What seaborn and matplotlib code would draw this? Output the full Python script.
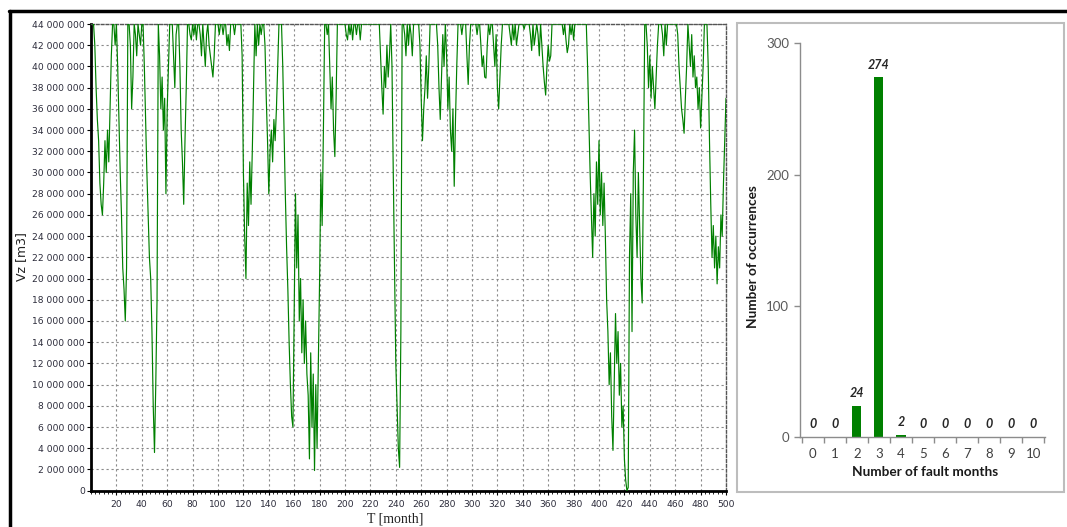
import numpy as np
import pandas as pd
import matplotlib
matplotlib.use("Agg")
import matplotlib.pyplot as plt
import seaborn as sns
from matplotlib.ticker import MultipleLocator, FuncFormatter, FixedLocator, AutoMinorLocator
from matplotlib.lines import Line2D
from matplotlib.patches import Rectangle

# ---------------- data ----------------
# Reservoir volume Vz, million m3, month by month
vz_months_001_100 = [
    44, 44, 42, 38, 35, 33, 29, 27, 26, 29,
    33, 30, 34, 31, 36, 41, 44, 44, 42, 44,
    40, 35, 30, 26, 21, 19, 16, 21, 44, 44,
    42, 36, 39, 44, 43, 41, 44, 43, 42, 44,
    44, 40, 35, 30, 26, 22, 20, 15, 8, 3.6,
    10, 18, 44, 41, 36, 39, 34, 37, 28, 36,
    40, 44, 44, 44, 41, 38, 43, 44, 44, 40,
    34, 31, 27, 33, 38, 44, 44, 43, 42.5, 44,
    43, 44, 42.5, 44, 44, 43, 41, 44, 42, 40,
    43, 44, 42, 41, 40, 39, 41, 44, 44, 44]
vz_months_101_200 = [
    43, 44, 44, 43, 44, 44, 42, 43, 41.5, 44,
    44, 44, 43, 44, 44, 44, 44, 44, 41, 30,
    24, 20, 29, 25, 31, 27, 32, 38, 44, 41,
    44, 42, 44, 43, 44, 44, 42, 37, 33, 28,
    32, 34, 31, 35, 33, 36, 40, 44, 44, 44,
    40, 34, 28, 23, 19, 14, 10, 7, 6, 17,
    28, 21, 26, 16, 20, 13, 18, 12, 16, 11,
    9, 3, 13, 6, 11, 1.9, 10, 4, 12, 20,
    30, 25, 34, 44, 44, 43, 44, 40, 36, 39,
    34, 31.5, 37, 44, 44, 44, 44, 44, 44, 44]
vz_months_201_300 = [
    43, 42.5, 44, 43, 44, 42.5, 44, 44, 43, 44,
    44, 42.5, 44, 44, 44, 44, 44, 44, 44, 44,
    44, 44, 44, 44, 44, 44, 44, 41, 38, 35.5,
    40, 38, 42, 39, 41, 44, 40, 30, 21, 12,
    8, 4, 2.2, 15, 44, 44, 43, 41, 44, 42,
    44, 43, 41, 44, 44, 44, 44, 44, 42, 37,
    33, 36, 38, 41, 37, 40, 44, 44, 44, 44,
    44, 44, 42, 38, 35, 39, 43, 40, 44, 41,
    36, 39, 34, 32, 36, 28.7, 35, 40, 44, 44,
    44, 43, 44, 44, 44, 41, 38.3, 42, 44, 44]
vz_months_301_400 = [
    44, 44, 44, 43, 44, 44, 42, 40, 41, 39,
    38.9, 42, 44, 43, 44, 44, 42, 40, 43, 38,
    36, 39, 42, 44, 44, 44, 44, 44, 44, 43,
    42, 44, 42.5, 44, 42, 43, 44, 44, 44, 44,
    43.5, 44, 44, 44, 44, 43, 41.5, 44, 42, 43,
    44, 43, 41, 44, 42, 40, 38.5, 37.3, 40, 42,
    40.5, 41, 44, 44, 44, 44, 44, 44, 44, 44,
    44, 43, 44, 42.5, 41.3, 42, 44, 43, 44, 42.5,
    44, 44, 44, 44, 44, 44, 44, 44, 44, 44,
    40, 35, 30, 26, 22, 28, 24, 31, 27, 33]
vz_months_401_500 = [
    26, 30, 25, 29, 24, 18, 15, 10, 13, 7,
    3.8, 10, 16.7, 12, 15, 9, 12, 6, 8, 3,
    1, 0, 0.3, 22, 28, 15, 30, 34, 26, 22,
    30, 25, 20, 17.7, 30, 44, 44, 42, 38, 41,
    37, 40, 38, 36, 39, 42, 44, 44, 44, 43,
    41, 44, 42, 44, 44, 44, 44, 44, 44, 44,
    44, 43, 40, 38, 36, 35, 33.7, 37, 40, 44,
    42, 40, 43, 39, 41, 38, 39, 36, 38, 34.2,
    37, 40, 44, 44, 44, 40, 33, 27, 22, 25,
    21, 24, 19.5, 23, 21, 26, 24, 29, 33, 37]

fault_months = ["0", "1", "2", "3", "4", "5", "6", "7", "8", "9", "10"]
occurrences = [0, 0, 24, 274, 2, 0, 0, 0, 0, 0, 0]

vz_million = (vz_months_001_100 + vz_months_101_200 + vz_months_201_300
              + vz_months_301_400 + vz_months_401_500)
months = list(range(1, len(vz_million) + 1))

# ---------------- style ----------------
sns.set_style("white")
plt.rcParams['font.family'] = ['DejaVu Sans']

W, H = 1067, 527
fig = plt.figure(figsize=(W / 100, H / 100), dpi=100)


def fx(px):
    return px / W


def fy(py):
    return 1 - py / H


# ---------------- left: time series ----------------
axL = fig.add_axes([fx(91), fy(490.7), fx(726 - 91), (490.7 - 24) / H])
dfL = pd.DataFrame({"month": months, "vz": np.array(vz_million) * 1e6})
sns.lineplot(data=dfL, x="month", y="vz", ax=axL, color="#008000",
             linewidth=0.85, estimator=None, zorder=3)
axL.set_xlim(0, 500)
axL.set_ylim(0, 44e6)
axL.set_xlabel("")
axL.set_ylabel("")
axL.xaxis.set_major_locator(FixedLocator(list(range(20, 501, 20))))
axL.xaxis.set_minor_locator(AutoMinorLocator(6))
axL.yaxis.set_major_locator(MultipleLocator(2e6))
axL.yaxis.set_major_formatter(FuncFormatter(lambda v, p: f"{int(round(v)):,}".replace(",", " ")))
axL.grid(True, which="major", linestyle=(0, (2, 2.5)), color="#8a8a8a", linewidth=0.8, zorder=0)
axL.set_axisbelow(True)
for s in ["left", "bottom"]:
    axL.spines[s].set_color("black")
    axL.spines[s].set_linewidth(2.0)
for s in ["top", "right"]:
    axL.spines[s].set_color("#555555")
    axL.spines[s].set_linewidth(1.0)
    axL.spines[s].set_linestyle((0, (2, 1.5)))
axL.tick_params(axis="y", which="major", direction="out", length=3, width=0.8,
                color="black", labelsize=6.6, labelcolor="#2b2b3a", pad=1.5, left=True)
axL.tick_params(axis="x", which="major", direction="out", length=3, width=0.8,
                color="black", labelsize=6.6, labelcolor="#2b2b3a", pad=4, bottom=True)
axL.tick_params(axis="x", which="minor", direction="out", length=2, width=0.6,
                color="black", bottom=True)

fig.text(fx(22), fy(257), "Vz [m3]", rotation=90, ha="center", va="center",
         fontsize=9, color="#222222")
fig.text(fx(395), fy(519), "T [month]", ha="center", va="center",
         fontsize=10, color="#222222", family=["Liberation Serif", "DejaVu Serif"])

# ---------------- right: histogram ----------------
fig.add_artist(Rectangle((fx(737), fy(491.7)), fx(1064 - 737), (491.7 - 22.7) / H,
                         transform=fig.transFigure, fill=False,
                         edgecolor="#bdbdbd", linewidth=1.5))

axR = fig.add_axes([fx(800), fy(437.3), fx(245), (437.3 - 43.3) / H])
dfR = pd.DataFrame({"fault": fault_months, "occ": occurrences})
sns.barplot(data=dfR, x="fault", y="occ", ax=axR, color="#008000", saturation=1,
            width=0.41, linewidth=0)
axR.set_xlim(-0.58, 10.53)
axR.set_ylim(0, 300)
axR.set_yticks([0, 100, 200, 300])
axR.set_xlabel("")
axR.set_ylabel("")
for s in ["top", "right"]:
    axR.spines[s].set_visible(False)
for s in ["left", "bottom"]:
    axR.spines[s].set_color("#8c8c8c")
    axR.spines[s].set_linewidth(1.0)
axR.xaxis.set_minor_locator(FixedLocator([i - 0.5 for i in range(12)]))
axR.tick_params(axis="x", which="major", length=0, labelsize=9.5,
                labelcolor="#404040", pad=8)
axR.tick_params(axis="x", which="minor", direction="out", length=4, width=1,
                color="#8c8c8c", bottom=True)
axR.tick_params(axis="y", which="major", direction="out", length=4, width=1,
                color="#8c8c8c", labelsize=9.5, labelcolor="#595959", pad=4, left=True)
for lab in axR.get_xticklabels() + axR.get_yticklabels():
    lab.set_family(["Lato", "DejaVu Sans"])

for i, v in enumerate(occurrences):
    axR.annotate(str(v), (i, v), xytext=(0, 5), textcoords="offset points",
                 ha="center", va="bottom", fontsize=9, fontweight="bold",
                 fontstyle="italic", color="#262626",
                 family=["Lato", "DejaVu Sans"], annotation_clip=False)

fig.text(fx(925), fy(471.7), "Number of fault months", ha="center", va="center",
         fontsize=9.8, fontweight="bold", color="#1a1a1a", family=["Lato", "DejaVu Sans"])
fig.text(fx(753), fy(257), "Number of occurrences", rotation=90, ha="center",
         va="center", fontsize=9.8, fontweight="bold", color="#1a1a1a",
         family=["Lato", "DejaVu Sans"])

# ---------------- outer frame ----------------
fig.add_artist(Line2D([fx(9), 1.0], [fy(10.5), fy(10.5)], transform=fig.transFigure,
                      color="black", linewidth=2.5))
fig.add_artist(Line2D([fx(9.5), fx(9.5)], [0.0, fy(10.5)], transform=fig.transFigure,
                      color="black", linewidth=2.5))

fig.savefig("out.png", dpi=100)
